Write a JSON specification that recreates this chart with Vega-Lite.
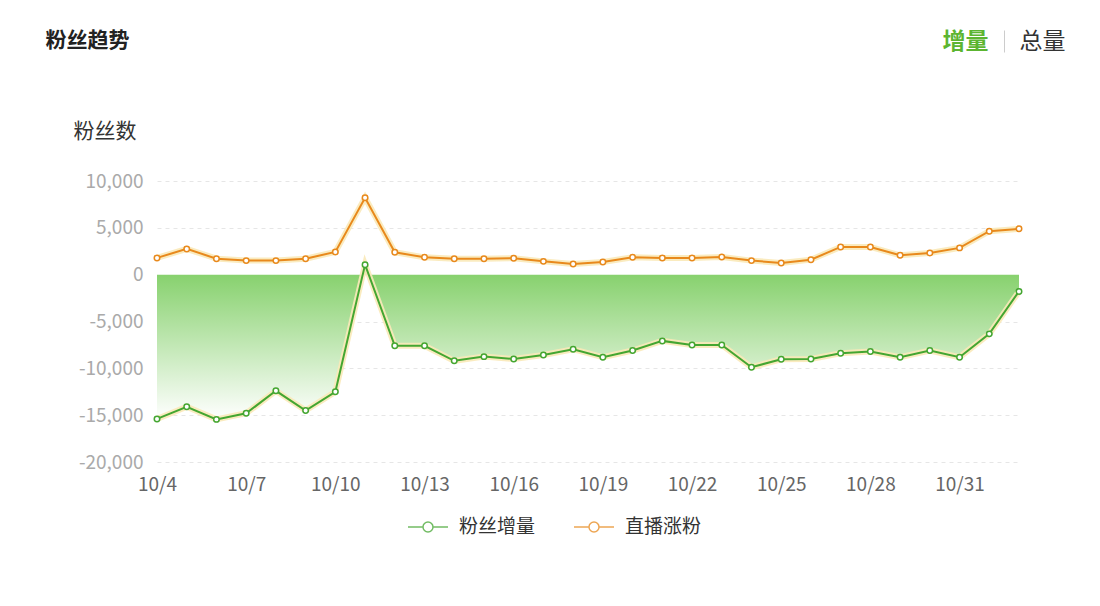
{
  "$schema": "https://vega.github.io/schema/vega-lite/v6.json",
  "width": 862,
  "height": 281,
  "autosize": {"type": "none"},
  "padding": {"left": 157, "top": 181, "right": 81, "bottom": 144},
  "background": "white",
  "config": {
    "view": {"stroke": null},
    "font": "Noto Sans CJK SC"
  },
  "data": {
    "values": [
      {"date": "10/4", "series": "粉丝增量", "value": -15400},
      {"date": "10/5", "series": "粉丝增量", "value": -14100},
      {"date": "10/6", "series": "粉丝增量", "value": -15450},
      {"date": "10/7", "series": "粉丝增量", "value": -14800},
      {"date": "10/8", "series": "粉丝增量", "value": -12400},
      {"date": "10/9", "series": "粉丝增量", "value": -14500},
      {"date": "10/10", "series": "粉丝增量", "value": -12500},
      {"date": "10/11", "series": "粉丝增量", "value": 1070},
      {"date": "10/12", "series": "粉丝增量", "value": -7600},
      {"date": "10/13", "series": "粉丝增量", "value": -7600},
      {"date": "10/14", "series": "粉丝增量", "value": -9200},
      {"date": "10/15", "series": "粉丝增量", "value": -8750},
      {"date": "10/16", "series": "粉丝增量", "value": -9000},
      {"date": "10/17", "series": "粉丝增量", "value": -8570},
      {"date": "10/18", "series": "粉丝增量", "value": -7960},
      {"date": "10/19", "series": "粉丝增量", "value": -8810},
      {"date": "10/20", "series": "粉丝增量", "value": -8100},
      {"date": "10/21", "series": "粉丝增量", "value": -7070},
      {"date": "10/22", "series": "粉丝增量", "value": -7500},
      {"date": "10/23", "series": "粉丝增量", "value": -7500},
      {"date": "10/24", "series": "粉丝增量", "value": -9880},
      {"date": "10/25", "series": "粉丝增量", "value": -9030},
      {"date": "10/26", "series": "粉丝增量", "value": -9000},
      {"date": "10/27", "series": "粉丝增量", "value": -8390},
      {"date": "10/28", "series": "粉丝增量", "value": -8210},
      {"date": "10/29", "series": "粉丝增量", "value": -8810},
      {"date": "10/30", "series": "粉丝增量", "value": -8100},
      {"date": "10/31", "series": "粉丝增量", "value": -8810},
      {"date": "11/1", "series": "粉丝增量", "value": -6320},
      {"date": "11/2", "series": "粉丝增量", "value": -1790},
      {"date": "10/4", "series": "直播涨粉", "value": 1790},
      {"date": "10/5", "series": "直播涨粉", "value": 2750},
      {"date": "10/6", "series": "直播涨粉", "value": 1710},
      {"date": "10/7", "series": "直播涨粉", "value": 1500},
      {"date": "10/8", "series": "直播涨粉", "value": 1500},
      {"date": "10/9", "series": "直播涨粉", "value": 1710},
      {"date": "10/10", "series": "直播涨粉", "value": 2430},
      {"date": "10/11", "series": "直播涨粉", "value": 8210},
      {"date": "10/12", "series": "直播涨粉", "value": 2390},
      {"date": "10/13", "series": "直播涨粉", "value": 1850},
      {"date": "10/14", "series": "直播涨粉", "value": 1710},
      {"date": "10/15", "series": "直播涨粉", "value": 1710},
      {"date": "10/16", "series": "直播涨粉", "value": 1750},
      {"date": "10/17", "series": "直播涨粉", "value": 1420},
      {"date": "10/18", "series": "直播涨粉", "value": 1140},
      {"date": "10/19", "series": "直播涨粉", "value": 1360},
      {"date": "10/20", "series": "直播涨粉", "value": 1850},
      {"date": "10/21", "series": "直播涨粉", "value": 1790},
      {"date": "10/22", "series": "直播涨粉", "value": 1790},
      {"date": "10/23", "series": "直播涨粉", "value": 1890},
      {"date": "10/24", "series": "直播涨粉", "value": 1500},
      {"date": "10/25", "series": "直播涨粉", "value": 1250},
      {"date": "10/26", "series": "直播涨粉", "value": 1600},
      {"date": "10/27", "series": "直播涨粉", "value": 2960},
      {"date": "10/28", "series": "直播涨粉", "value": 2960},
      {"date": "10/29", "series": "直播涨粉", "value": 2070},
      {"date": "10/30", "series": "直播涨粉", "value": 2320},
      {"date": "10/31", "series": "直播涨粉", "value": 2860},
      {"date": "11/1", "series": "直播涨粉", "value": 4640},
      {"date": "11/2", "series": "直播涨粉", "value": 4890}
    ]
  },
  "encoding": {
    "x": {
      "field": "date",
      "type": "ordinal",
      "scale": {
        "type": "point",
        "padding": 0,
        "domain": ["10/4","10/5","10/6","10/7","10/8","10/9","10/10","10/11","10/12","10/13","10/14","10/15","10/16","10/17","10/18","10/19","10/20","10/21","10/22","10/23","10/24","10/25","10/26","10/27","10/28","10/29","10/30","10/31","11/1","11/2"]
      },
      "axis": null
    },
    "y": {
      "field": "value",
      "type": "quantitative",
      "scale": {"domain": [-20000, 10000], "nice": false},
      "axis": null
    }
  },
  "layer": [
    {
      "transform": [{"filter": "datum.series === '粉丝增量'"}],
      "mark": {
        "type": "area",
        "color": {
          "gradient": "linear",
          "x1": 0, "y1": 0, "x2": 0, "y2": 1,
          "stops": [
            {"offset": 0, "color": "#7fce64"},
            {"offset": 1, "color": "#ffffff"}
          ]
        }
      },
      "encoding": {
        "x": {
          "field": "date",
          "type": "ordinal",
          "scale": {
            "type": "point",
            "padding": 0,
            "domain": ["10/4","10/5","10/6","10/7","10/8","10/9","10/10","10/11","10/12","10/13","10/14","10/15","10/16","10/17","10/18","10/19","10/20","10/21","10/22","10/23","10/24","10/25","10/26","10/27","10/28","10/29","10/30","10/31","11/1","11/2"]
          },
          "axis": {
            "orient": "bottom",
            "values": ["10/4","10/7","10/10","10/13","10/16","10/19","10/22","10/25","10/28","10/31"],
            "domain": false,
            "ticks": false,
            "grid": false,
            "labelAngle": 0,
            "labelColor": "#666",
            "labelFontSize": 19,
            "labelPadding": 13,
            "title": "粉丝趋势",
            "titleX": -112,
            "titleY": -422,
            "titleAlign": "left",
            "titleBaseline": "middle",
            "titleFontSize": 21,
            "titleFontWeight": "bold",
            "titleColor": "#222"
          }
        },
        "y": {
          "field": "value",
          "type": "quantitative",
          "scale": {"domain": [-20000, 10000], "nice": false},
          "axis": {
            "orient": "left",
            "values": [-20000, -15000, -10000, -5000, 0, 5000, 10000],
            "labelExpr": "replace(format(datum.value, ',d'), '\u2212', '-')",
            "domain": false,
            "ticks": false,
            "labelColor": "#aaa",
            "labelFontSize": 19,
            "labelPadding": 14,
            "grid": true,
            "gridDash": [4, 4],
            "gridColor": "#e6e6e6",
            "title": "粉丝数",
            "titleAngle": 0,
            "titleX": -84,
            "titleY": -50,
            "titleAlign": "left",
            "titleBaseline": "middle",
            "titleFontSize": 21,
            "titleFontWeight": "normal",
            "titleColor": "#333"
          }
        },
        "y2": {"datum": 0}
      }
    },
    {
      "mark": {"type": "line", "color": "#fae9b8", "strokeWidth": 6, "opacity": 0.9},
      "encoding": {
        "detail": {"field": "series"}
      }
    },
    {
      "mark": {
        "type": "line",
        "strokeWidth": 2,
        "point": {"filled": false, "fill": "white", "size": 30, "strokeWidth": 1.5}
      },
      "encoding": {
        "x": {
          "field": "date",
          "type": "ordinal",
          "scale": {
            "type": "point",
            "padding": 0,
            "domain": ["10/4","10/5","10/6","10/7","10/8","10/9","10/10","10/11","10/12","10/13","10/14","10/15","10/16","10/17","10/18","10/19","10/20","10/21","10/22","10/23","10/24","10/25","10/26","10/27","10/28","10/29","10/30","10/31","11/1","11/2"]
          },
          "axis": {
            "orient": "top",
            "values": ["11/1"],
            "offset": 129,
            "labels": false,
            "domain": false,
            "ticks": true,
            "tickColor": "#cccccc",
            "tickSize": 22,
            "tickOffset": 15,
            "tickWidth": 1,
            "grid": false,
            "title": "增量",
            "titleX": 808,
            "titleY": -11,
            "titleAlign": "center",
            "titleBaseline": "middle",
            "titleFontSize": 23,
            "titleFontWeight": "bold",
            "titleColor": "#5cb531"
          }
        },
        "y": {
          "field": "value",
          "type": "quantitative",
          "scale": {"domain": [-20000, 10000], "nice": false},
          "axis": {
            "orient": "right",
            "labels": false,
            "domain": false,
            "ticks": false,
            "grid": false,
            "title": "总量",
            "titleAngle": 0,
            "titleX": 23,
            "titleY": -140,
            "titleAlign": "center",
            "titleBaseline": "middle",
            "titleFontSize": 23,
            "titleFontWeight": "normal",
            "titleColor": "#333"
          }
        },
        "color": {
          "field": "series",
          "type": "nominal",
          "scale": {"domain": ["粉丝增量", "直播涨粉"], "range": ["#44a631", "#e8891c"]},
          "legend": {
            "orient": "none",
            "legendX": 250,
            "legendY": 325,
            "direction": "horizontal",
            "title": null,
            "padding": 0,
            "symbolType": "M-1,0L-0.25,0M0.25,0L1,0M0.25,0A0.25,0.25,0,1,1,-0.25,0A0.25,0.25,0,1,1,0.25,0",
            "symbolSize": 1600,
            "symbolStrokeWidth": 1.5,
            "symbolFillColor": "white",
            "symbolOpacity": 0.75,
            "labelFontSize": 19,
            "labelColor": "#333",
            "labelOffset": 10,
            "columnPadding": 35
          }
        }
      }
    }
  ],
  "resolve": {"axis": {"x": "independent", "y": "independent"}}
}
